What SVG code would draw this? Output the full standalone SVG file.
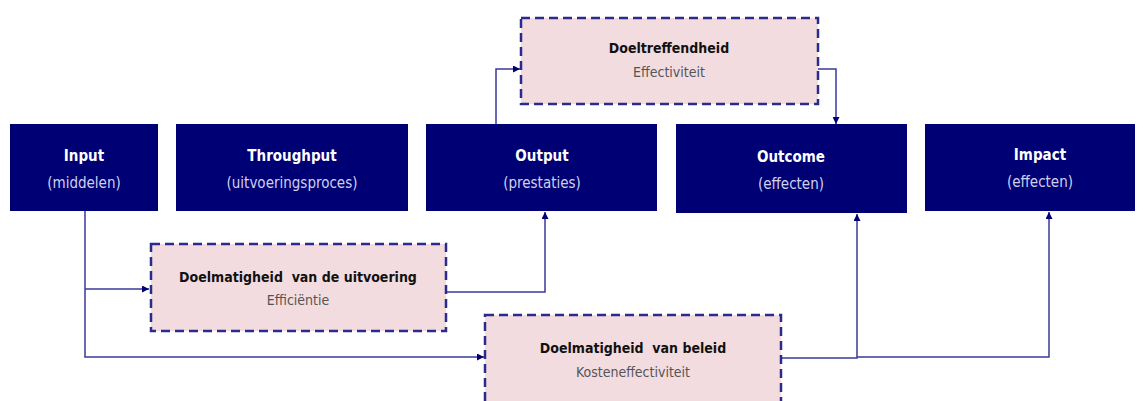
<svg xmlns="http://www.w3.org/2000/svg" width="1145" height="401" viewBox="0 0 1145 401">
<style>
.n{fill:#000075}
.d{fill:#f2dce0;stroke:#2b2b8a;stroke-width:2.5;stroke-dasharray:9,5}
text{font-family:"Liberation Sans Narrow","DejaVu Sans Condensed","Liberation Sans",sans-serif;text-anchor:middle}
.t{font-size:15px;font-weight:bold;fill:#ffffff}
.s{font-size:15px;fill:#d0d0ee}
.dt{font-size:14px;font-weight:bold;fill:#111111}
.ds{font-size:14px;fill:#555555}
.c{fill:none;stroke:#3a3a9c;stroke-width:1.5}
</style>
<defs>
<marker id="a" viewBox="0 0 10 10" refX="10" refY="5" markerWidth="7" markerHeight="7" orient="auto" markerUnits="userSpaceOnUse">
<path d="M0,0 L10,5 L0,10 z" fill="#000075"/>
</marker>
</defs>
<rect width="1145" height="401" fill="#ffffff"/>
<g id="connectors">
<path class="c" d="M496,124 V69 H520" marker-end="url(#a)"/>
<path class="c" d="M818,69 H836 V124" marker-end="url(#a)"/>
<path class="c" d="M85,211 V357 H484" marker-end="url(#a)"/>
<path class="c" d="M85,289 H149" marker-end="url(#a)"/>
<path class="c" d="M446,292 H545 V212" marker-end="url(#a)"/>
<path class="c" d="M781,358 H857 V214" marker-end="url(#a)"/>
<path class="c" d="M857,357 H1049 V212" marker-end="url(#a)"/>
</g>
<g id="input"><rect class="n" x="10" y="124" width="148" height="87"/><text class="t" x="84" y="161">Input</text><text class="s" x="84" y="188">(middelen)</text></g>
<g id="throughput"><rect class="n" x="176" y="124" width="232" height="87"/><text class="t" x="292" y="161">Throughput</text><text class="s" x="292" y="188">(uitvoeringsproces)</text></g>
<g id="output"><rect class="n" x="426" y="124" width="231" height="87"/><text class="t" x="542" y="161">Output</text><text class="s" x="542" y="188">(prestaties)</text></g>
<g id="outcome"><rect class="n" x="676" y="124" width="231" height="89"/><text class="t" x="791" y="162">Outcome</text><text class="s" x="791" y="189">(effecten)</text></g>
<g id="impact"><rect class="n" x="925" y="124" width="210" height="87"/><text class="t" x="1040" y="160">Impact</text><text class="s" x="1040" y="187">(effecten)</text></g>
<g id="doeltreffendheid"><rect class="d" x="521" y="18" width="297" height="86"/><text class="dt" x="669" y="53">Doeltreffendheid</text><text class="ds" x="669" y="77">Effectiviteit</text></g>
<g id="doelmatigheid-uitvoering"><rect class="d" x="151" y="244" width="295" height="87"/><text class="dt" x="298" y="282" xml:space="preserve">Doelmatigheid  van de uitvoering</text><text class="ds" x="298" y="305">Efficiëntie</text></g>
<g id="doelmatigheid-beleid"><rect class="d" x="485" y="315" width="296" height="90"/><text class="dt" x="633" y="353" xml:space="preserve">Doelmatigheid  van beleid</text><text class="ds" x="633" y="377">Kosteneffectiviteit</text></g>
</svg>
